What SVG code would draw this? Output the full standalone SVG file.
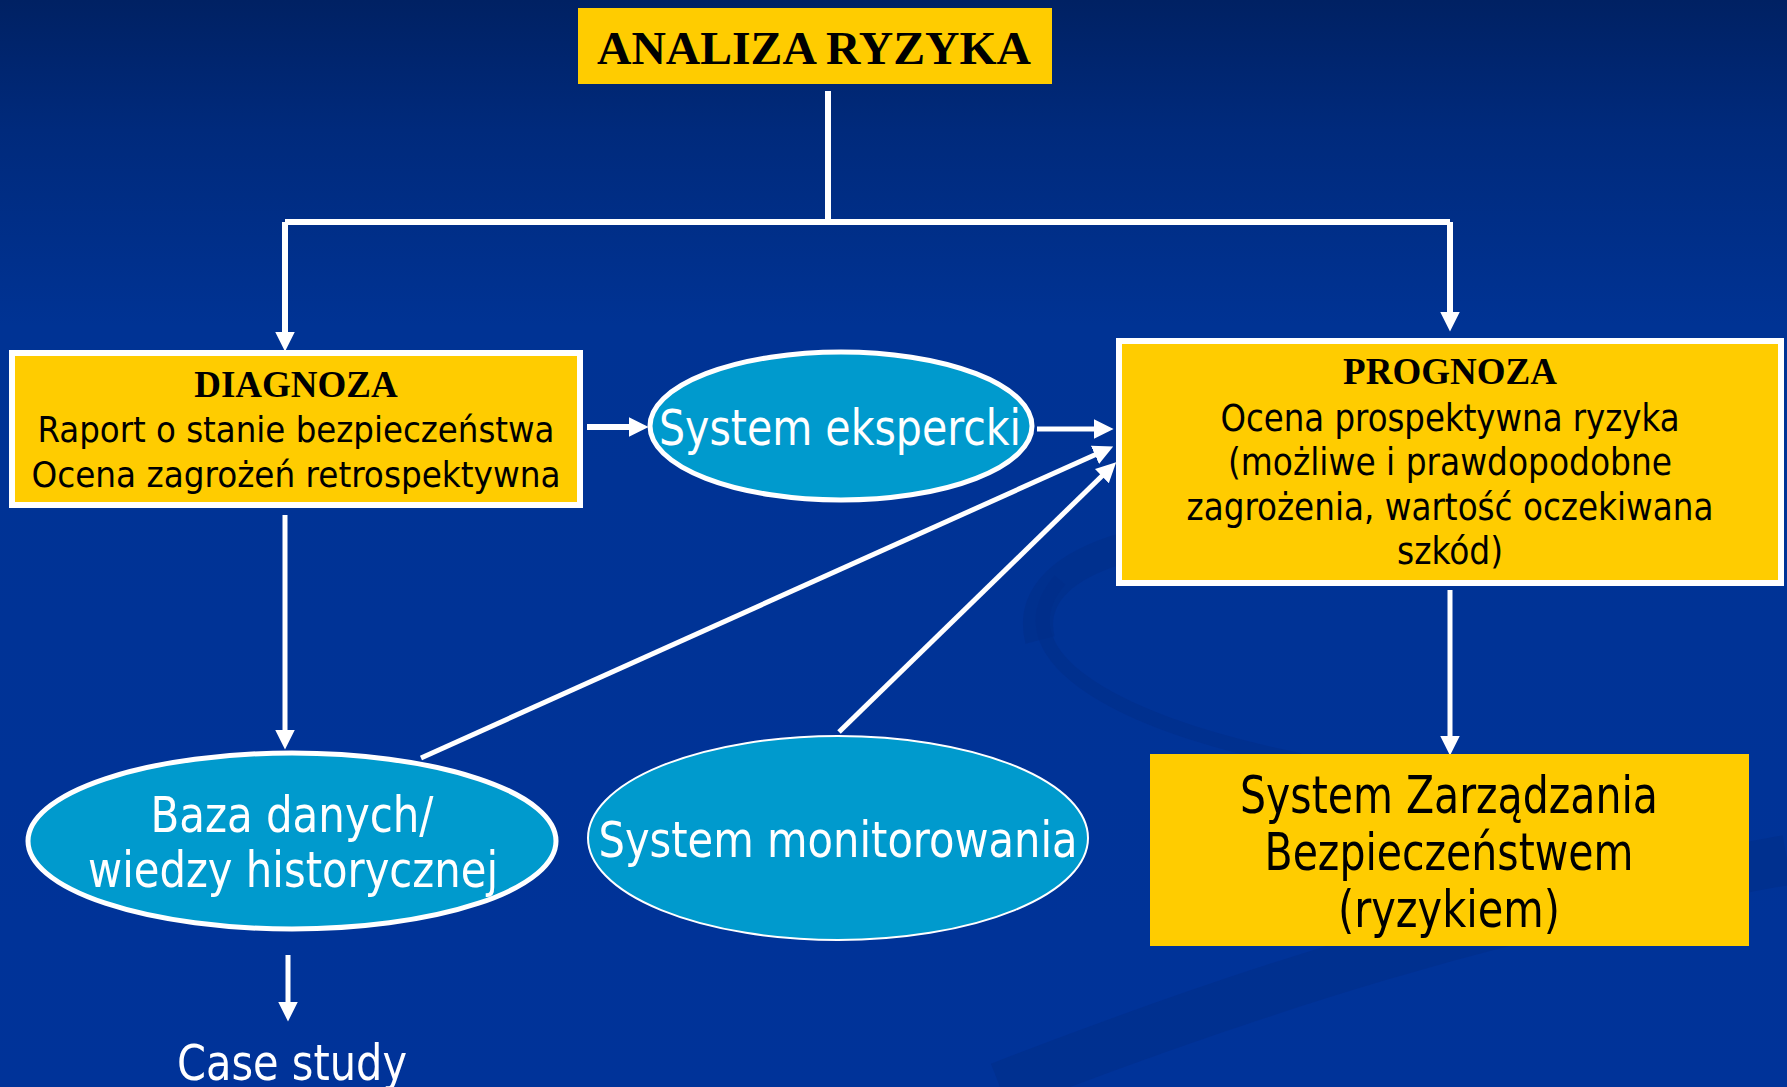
<svg xmlns="http://www.w3.org/2000/svg" width="1787" height="1087" viewBox="0 0 1787 1087">
<defs>
<linearGradient id="bg" x1="0" y1="0" x2="0" y2="1">
<stop offset="0" stop-color="#002163"/>
<stop offset="0.12" stop-color="#002a7c"/>
<stop offset="0.3" stop-color="#003394"/>
<stop offset="1" stop-color="#003399"/>
</linearGradient>
<marker id="ah" markerUnits="userSpaceOnUse" markerWidth="20" markerHeight="20" refX="4" refY="9" orient="auto" viewBox="0 0 18 18">
<path d="M0,0 L18,9 L0,18 z" fill="#ffffff"/>
</marker>
<style>
.bx{fill:#ffcc00;stroke:#ffffff;stroke-width:6}
.bxn{fill:#ffcc00}
.el{fill:#009acd;stroke:#ffffff;stroke-width:5}
.t{font-family:"DejaVu Sans Condensed","DejaVu Sans",sans-serif;font-stretch:condensed;text-anchor:middle}
.tb{font-family:"Liberation Serif","Times New Roman",serif;font-weight:bold;text-anchor:middle;fill:#000}
.k{fill:#000}
.w{fill:#fff}
.c{fill:none;stroke:#fff;stroke-width:6}
.c5{fill:none;stroke:#fff;stroke-width:5;marker-end:url(#ah)}
.ca{fill:none;stroke:#fff;stroke-width:6;marker-end:url(#ah)}
</style>
</defs>
<rect width="1787" height="1087" fill="url(#bg)"/>
<g id="swoosh" fill="none" stroke="#002d88" stroke-opacity="0.55">
<path d="M1040,640 C1020,560 1150,520 1350,530" stroke-width="30"/>
<path d="M1060,580 C1000,650 1100,720 1300,760" stroke-width="14"/>
<path d="M1000,1087 C1250,990 1500,910 1787,860" stroke-width="50"/>
</g>

<g id="connectors">
<path class="c" d="M828,91 V222"/>
<path class="c" d="M285,222 H1450"/>
<path class="ca" d="M285,222 V336"/>
<path class="ca" d="M1450,222 V316"/>
<path class="ca" d="M587,427 H633"/>
<path class="c5" d="M1037,429 H1098"/>
<path class="c5" d="M421,758 L1099,453"/>
<path class="c5" d="M839,732 L1105,473"/>
<path class="c5" d="M285,515 V734"/>
<path class="c5" d="M1450,590 V740"/>
<path class="c5" d="M288,955 V1006"/>
</g>

<g id="analiza">
<rect class="bxn" x="578" y="8" width="474" height="76"/>
<text class="tb" x="814" y="64" font-size="47" textLength="434" lengthAdjust="spacingAndGlyphs">ANALIZA RYZYKA</text>
</g>

<g id="diagnoza">
<rect class="bx" x="12" y="353" width="568" height="152"/>
<text class="tb" x="296" y="397" font-size="37">DIAGNOZA</text>
<text class="t k" x="296" y="442" font-size="36" textLength="517" lengthAdjust="spacingAndGlyphs">Raport o stanie bezpieczeństwa</text>
<text class="t k" x="296" y="487" font-size="36" textLength="529" lengthAdjust="spacingAndGlyphs">Ocena zagrożeń retrospektywna</text>
</g>

<g id="ekspercki">
<ellipse class="el" cx="841" cy="426" rx="191" ry="74"/>
<text class="t w" x="840" y="445" font-size="50" textLength="362" lengthAdjust="spacingAndGlyphs">System ekspercki</text>
</g>

<g id="prognoza">
<rect class="bx" x="1119" y="341" width="662" height="242"/>
<text class="tb" x="1450" y="384" font-size="37">PROGNOZA</text>
<text class="t k" x="1450" y="431" font-size="37" textLength="459" lengthAdjust="spacingAndGlyphs">Ocena prospektywna ryzyka</text>
<text class="t k" x="1450" y="475" font-size="37" textLength="444" lengthAdjust="spacingAndGlyphs">(możliwe i prawdopodobne</text>
<text class="t k" x="1450" y="520" font-size="37" textLength="527" lengthAdjust="spacingAndGlyphs">zagrożenia, wartość oczekiwana</text>
<text class="t k" x="1450" y="564" font-size="37" textLength="106" lengthAdjust="spacingAndGlyphs">szkód)</text>
</g>

<g id="szb">
<rect class="bxn" x="1150" y="754" width="599" height="192"/>
<text class="t k" x="1449" y="813" font-size="51" textLength="418" lengthAdjust="spacingAndGlyphs">System Zarządzania</text>
<text class="t k" x="1449" y="870" font-size="51" textLength="369" lengthAdjust="spacingAndGlyphs">Bezpieczeństwem</text>
<text class="t k" x="1449" y="927" font-size="51" textLength="222" lengthAdjust="spacingAndGlyphs">(ryzykiem)</text>
</g>

<g id="baza">
<ellipse class="el" cx="292" cy="841" rx="264" ry="88"/>
<text class="t w" x="292" y="832" font-size="50" textLength="283" lengthAdjust="spacingAndGlyphs">Baza danych/</text>
<text class="t w" x="293" y="887" font-size="50" textLength="410" lengthAdjust="spacingAndGlyphs">wiedzy historycznej</text>
</g>

<g id="monitoring">
<ellipse class="el" cx="838" cy="838" rx="250" ry="102" style="stroke-width:2"/>
<text class="t w" x="838" y="857" font-size="50" textLength="479" lengthAdjust="spacingAndGlyphs">System monitorowania</text>
</g>

<g id="case">
<text class="t w" x="292" y="1080" font-size="50" textLength="230" lengthAdjust="spacingAndGlyphs">Case study</text>
</g>
</svg>
